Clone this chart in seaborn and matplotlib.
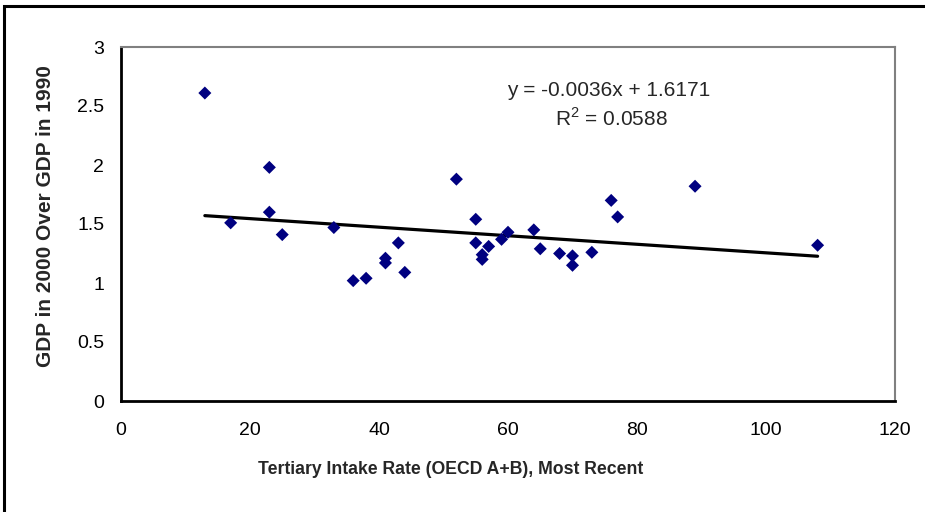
import matplotlib
matplotlib.use("Agg")
import matplotlib.pyplot as plt
import seaborn as sns
import pandas as pd
from matplotlib.patches import Rectangle

intake_rate = [13, 17, 23, 23, 25, 33, 36, 38, 41, 41, 43, 44, 52, 55, 55,
               56, 56, 57, 59, 60, 64, 65, 68, 70, 70, 73, 76, 77, 89, 108]
gdp_ratio = [2.61, 1.51, 1.98, 1.60, 1.41, 1.47, 1.02, 1.04, 1.21, 1.17, 1.34, 1.09,
             1.88, 1.54, 1.34, 1.24, 1.20, 1.31, 1.37, 1.43, 1.45, 1.29, 1.25, 1.23,
             1.15, 1.26, 1.70, 1.56, 1.82, 1.32]
x_ticks = [0, 20, 40, 60, 80, 100, 120]
y_ticks = [0, 0.5, 1, 1.5, 2, 2.5, 3]
y_tick_labels = ["0", "0.5", "1", "1.5", "2", "2.5", "3"]
equation_text = "y = -0.0036x + 1.6171"
r2_text = "R$^2$ = 0.0588"
x_label = "Tertiary Intake Rate (OECD A+B), Most Recent"
y_label = "GDP in 2000 Over GDP in 1990"

sns.set_style("white")
plt.rcParams["font.family"] = ["Liberation Sans", "DejaVu Sans"]
plt.rcParams["mathtext.fontset"] = "custom"
plt.rcParams["mathtext.rm"] = "Liberation Sans"

df = pd.DataFrame({"x": intake_rate, "y": gdp_ratio})

fig = plt.figure(figsize=(9.25, 5.12), dpi=100)
ax = fig.add_axes([121/925, 1 - 401/512, (895 - 121)/925, (401 - 47)/512])

sns.regplot(data=df, x="x", y="y", ax=ax, scatter=False, ci=None, truncate=True,
            line_kws={"color": "black", "lw": 2.3})
sns.scatterplot(data=df, x="x", y="y", ax=ax, marker="D", s=44, color="#000080",
                edgecolor="none", linewidth=0, zorder=3)

ax.set_xlim(0, 120)
ax.set_ylim(0, 3)
ax.set_xticks(x_ticks)
ax.set_xticklabels([str(v) for v in x_ticks])
ax.set_yticks(y_ticks)
ax.set_yticklabels(y_tick_labels)
ax.tick_params(axis="both", direction="inout", length=8, width=1.2, color="black",
               labelsize=14, labelcolor="black")
ax.tick_params(axis="x", pad=11)
ax.tick_params(axis="y", pad=8)

for side in ["left", "bottom"]:
    ax.spines[side].set_color("black")
    ax.spines[side].set_linewidth(2)
for side in ["top", "right"]:
    ax.spines[side].set_color("#808080")
    ax.spines[side].set_linewidth(1.5)

ax.set_xlabel("")
ax.set_ylabel("")
fig.text(451/925, 1 - 469/512, x_label, ha="center", va="center",
         fontsize=12.7, fontweight="bold")
fig.text(46/925, 1 - 216/512, y_label, ha="center", va="center",
         fontsize=15, fontweight="bold", rotation=90)

fig.text(609/925, 1 - 90/512, equation_text, ha="center", va="center", fontsize=15)
fig.text(611/925, 1 - 118/512, r2_text, ha="center", va="center", fontsize=15)

fig.patches.append(Rectangle((4/925, -0.2), 1.5, 1 - 6/512 + 0.2,
                             transform=fig.transFigure, fill=False,
                             edgecolor="black", linewidth=2.2))

fig.savefig("out.png", dpi=100)
